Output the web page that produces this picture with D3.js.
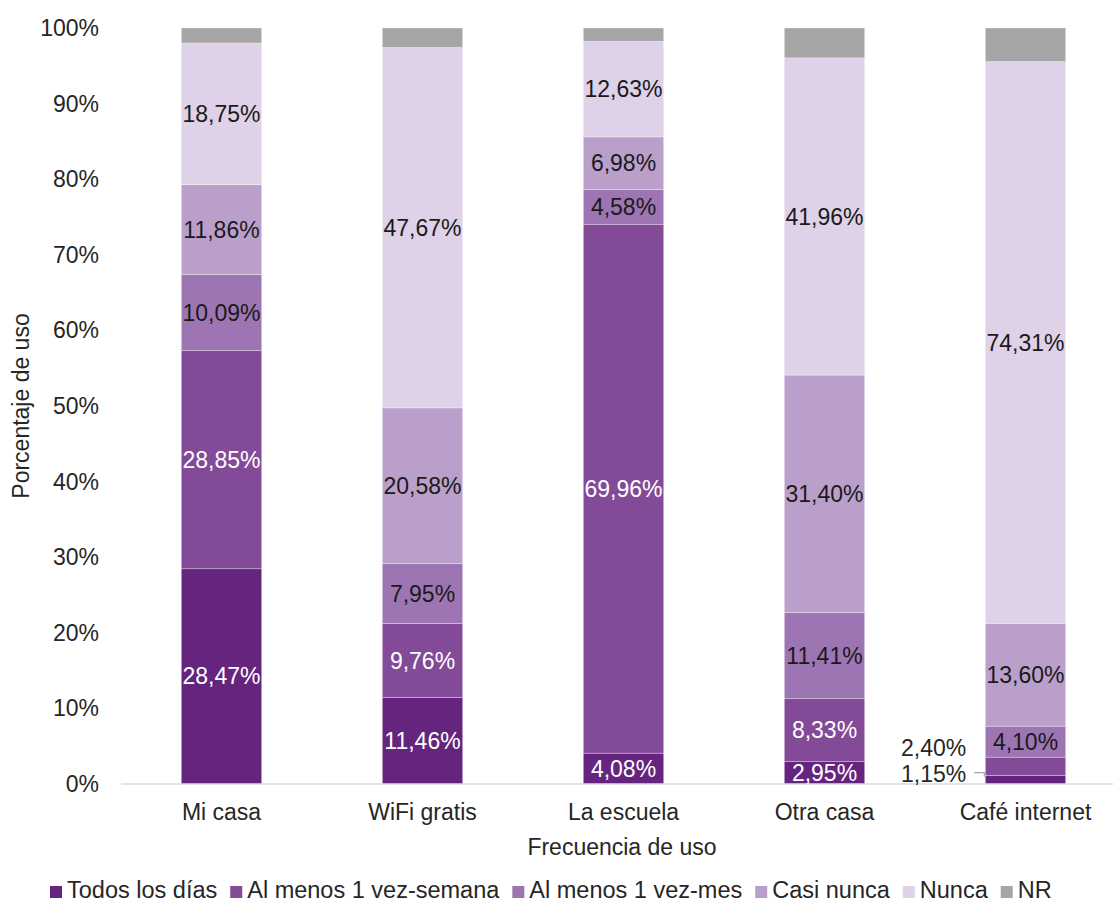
<!DOCTYPE html>
<html>
<head>
<meta charset="utf-8">
<script src="https://cdn.jsdelivr.net/npm/d3@7"></script>
<style>
  html, body { margin: 0; padding: 0; background: #fff; }
  text { font-family: "Liberation Sans", Arial, sans-serif; }
</style>
</head>
<body>
<svg id="chart" width="1113" height="903"></svg>
<script>
// Places where internet is used
const categories = ["Mi casa", "WiFi gratis", "La escuela", "Otra casa", "Café internet"];

// Frequency series (percent per place)
const seriesNames = ["Todos los días", "Al menos 1 vez-semana", "Al menos 1 vez-mes", "Casi nunca", "Nunca", "NR"];
const todosLosDias = [28.47, 11.46, 4.08, 2.95, 1.15];
const semana       = [28.85, 9.76, 69.96, 8.33, 2.40];
const mes          = [10.09, 7.95, 4.58, 11.41, 4.10];
const casiNunca    = [11.86, 20.58, 6.98, 31.40, 13.60];
const nunca        = [18.75, 47.67, 12.63, 41.96, 74.31];
const nr           = [1.98, 2.58, 1.77, 3.95, 4.44];

const yTicks = [0, 10, 20, 30, 40, 50, 60, 70, 80, 90, 100];
const colors = ["#65247e", "#834a98", "#9e75b3", "#bb9fcb", "#ded1e8", "#a6a6a6"];
const labelColors = ["#ffffff", "#ffffff", "#1a1a1a", "#1a1a1a", "#1a1a1a", null];

const FS = 23;

const seriesValues = [todosLosDias, semana, mes, casiNunca, nunca, nr];
const rows = categories.map((c, i) => {
  const r = { cat: c };
  seriesNames.forEach((s, j) => r[s] = seriesValues[j][i]);
  return r;
});
const stacked = d3.stack().keys(seriesNames)(rows);

const svg = d3.select("#chart");
const x = d3.scaleBand().domain(categories).range([121, 1126]).paddingInner(0.6).paddingOuter(0.3);
const y = d3.scaleLinear().domain([0, 100]).range([784, 28]);

const fmt = v => d3.format(".2f")(v).replace(".", ",") + "%";

// Y axis labels
svg.append("g").selectAll("text").data(yTicks).join("text")
  .attr("x", 99).attr("y", d => y(d)).attr("dy", "0.35em")
  .attr("text-anchor", "end").attr("font-size", FS).attr("fill", "#262626")
  .text(d => d + "%");

// Bars
const layer = svg.append("g").selectAll("g").data(stacked).join("g")
  .attr("fill", (d, i) => colors[i]);
layer.selectAll("rect").data(d => d).join("rect")
  .attr("x", d => x(d.data.cat))
  .attr("width", x.bandwidth())
  .attr("y", d => y(d[1]))
  .attr("height", d => y(d[0]) - y(d[1]))
  .attr("stroke", "#ffffff").attr("stroke-width", 0.6).attr("stroke-opacity", 0.5);

// Baseline
svg.append("line").attr("x1", 121).attr("x2", 1126).attr("y1", 784).attr("y2", 784)
  .attr("stroke", "#d9d9d9").attr("stroke-width", 1.5);

// Segment labels
stacked.forEach((s, i) => {
  if (i === 5) return;
  s.forEach(d => {
    const cat = d.data.cat;
    const v = d[1] - d[0];
    if (cat === "Café internet" && i < 2) return;
    svg.append("text")
      .attr("x", x(cat) + x.bandwidth() / 2)
      .attr("y", (y(d[0]) + y(d[1])) / 2).attr("dy", "0.35em")
      .attr("text-anchor", "middle").attr("font-size", FS)
      .attr("fill", labelColors[i])
      .text(fmt(v));
  });
});

// Small segments of the last bar labelled outside
const cafe = "Café internet";
const cafeX = x(cafe);
const y115 = y(todosLosDias[4] / 2);
svg.append("text").attr("x", cafeX - 19).attr("y", y(todosLosDias[4] + semana[4] / 2) - 18).attr("dy", "0.35em")
  .attr("text-anchor", "end").attr("font-size", FS).attr("fill", "#262626").text(fmt(semana[4]));
svg.append("text").attr("x", cafeX - 19).attr("y", y115 - 6).attr("dy", "0.35em")
  .attr("text-anchor", "end").attr("font-size", FS).attr("fill", "#262626").text(fmt(todosLosDias[4]));
svg.append("path")
  .attr("d", `M${cafeX - 11},${y115 - 7}H${cafeX - 1}V${y115 - 3}`)
  .attr("fill", "none").attr("stroke", "#a6a6a6").attr("stroke-width", 1.2);

// Category labels
svg.append("g").selectAll("text").data(categories).join("text")
  .attr("x", d => x(d) + x.bandwidth() / 2).attr("y", 812).attr("dy", "0.35em")
  .attr("text-anchor", "middle").attr("font-size", FS).attr("fill", "#262626")
  .text(d => d);

// Axis titles
svg.append("text").attr("x", 622).attr("y", 847).attr("dy", "0.35em")
  .attr("text-anchor", "middle").attr("font-size", FS).attr("fill", "#262626")
  .text("Frecuencia de uso");
svg.append("text").attr("transform", "translate(21,406) rotate(-90)").attr("dy", "0.35em")
  .attr("text-anchor", "middle").attr("font-size", FS).attr("fill", "#262626")
  .text("Porcentaje de uso");

// Legend
const legend = svg.append("g");
let lx = 50;
seriesNames.forEach((name, i) => {
  legend.append("rect").attr("x", lx).attr("y", 886).attr("width", 12).attr("height", 12).attr("fill", colors[i]);
  const t = legend.append("text").attr("x", lx + 17).attr("y", 898)
    .attr("font-size", 23.5).attr("fill", "#262626").text(name);
  lx += 17 + t.node().getComputedTextLength() + 13;
});
</script>
</body>
</html>
